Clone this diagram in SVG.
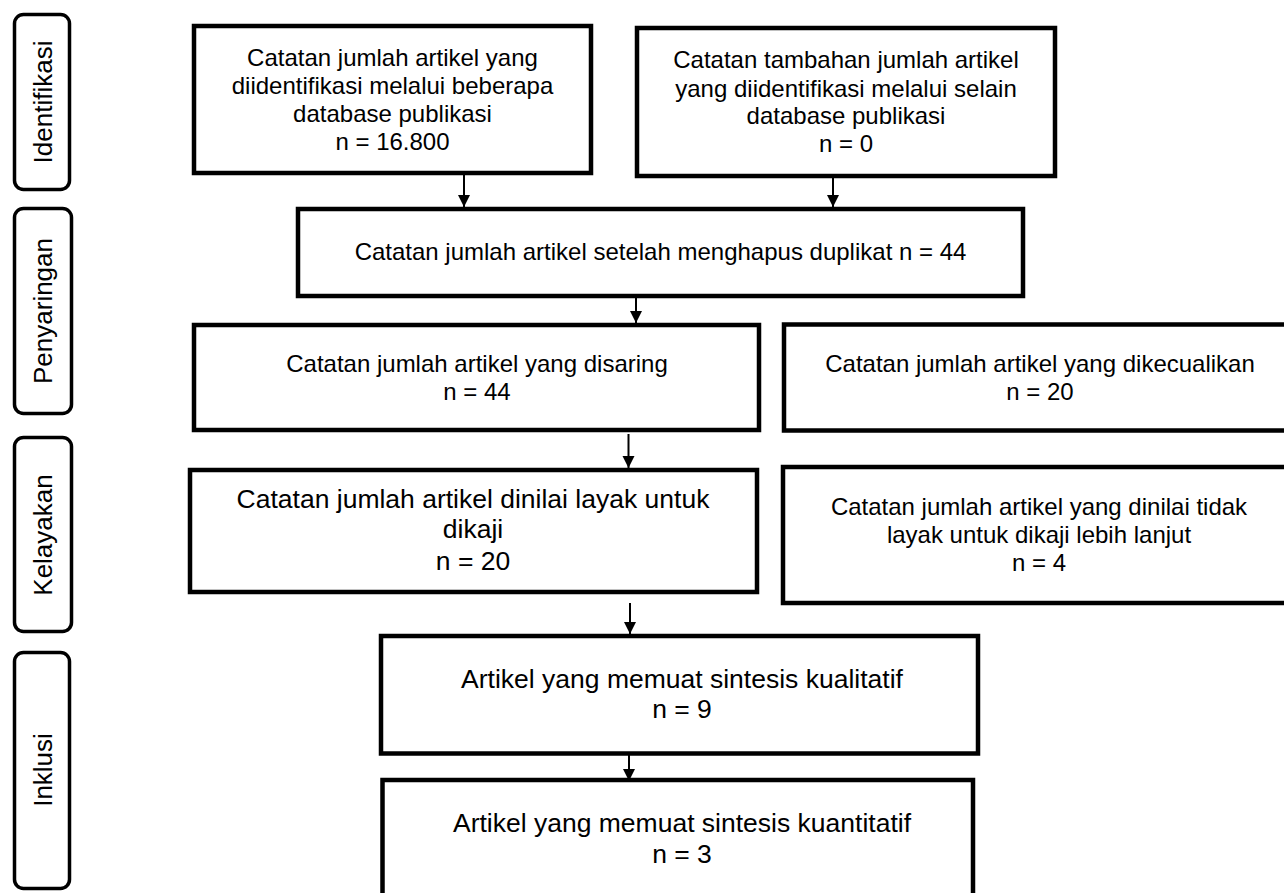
<svg xmlns="http://www.w3.org/2000/svg" width="1284" height="893" viewBox="0 0 1284 893">
<style>
.box{fill:#fff;stroke:#000;stroke-width:4.5}
.side{fill:#fff;stroke:#000;stroke-width:3.5}
.t{font-family:"Liberation Sans",Arial,sans-serif;font-size:24px;fill:#000;text-anchor:middle}
.tl{font-family:"Liberation Sans",Arial,sans-serif;font-size:26.5px;fill:#000;text-anchor:middle}
.st{font-family:"Liberation Sans",Arial,sans-serif;font-size:26px;fill:#000;text-anchor:middle}
.c{stroke:#000;stroke-width:2;fill:none}
</style>
<defs>
<marker id="ah" markerUnits="userSpaceOnUse" markerWidth="14" markerHeight="14" refX="12" refY="6" orient="auto">
<path d="M0,0 L12,6 L0,12 Z" fill="#000"/>
</marker>
</defs>

<g id="side-identifikasi">
<rect class="side" x="14.5" y="14.5" width="55" height="175" rx="9"/>
<text class="st" transform="translate(51.5,102) rotate(-90)">Identifikasi</text>
</g>
<g id="side-penyaringan">
<rect class="side" x="14.5" y="208.5" width="57" height="205" rx="9"/>
<text class="st" transform="translate(51.5,311) rotate(-90)">Penyaringan</text>
</g>
<g id="side-kelayakan">
<rect class="side" x="14.5" y="437.5" width="57" height="194" rx="9"/>
<text class="st" transform="translate(51.5,535) rotate(-90)">Kelayakan</text>
</g>
<g id="side-inklusi">
<rect class="side" x="14.5" y="652.5" width="55" height="236" rx="9"/>
<text class="st" transform="translate(51.5,770) rotate(-90)">Inklusi</text>
</g>

<g id="connectors">
<line class="c" x1="464" y1="175" x2="464" y2="207" marker-end="url(#ah)"/>
<line class="c" x1="833" y1="178" x2="833" y2="207" marker-end="url(#ah)"/>
<line class="c" x1="636" y1="298" x2="636" y2="323" marker-end="url(#ah)"/>
<line class="c" x1="628.5" y1="434" x2="628.5" y2="468" marker-end="url(#ah)"/>
<line class="c" x1="630" y1="603" x2="630" y2="634" marker-end="url(#ah)"/>
<line class="c" x1="629" y1="755" x2="629" y2="781" marker-end="url(#ah)"/>
</g>

<g id="box-database">
<rect class="box" x="194" y="26" width="397" height="147"/>
<text class="t" x="392.5" y="66">Catatan jumlah artikel yang</text>
<text class="t" x="392.5" y="94">diidentifikasi melalui beberapa</text>
<text class="t" x="392.5" y="122">database publikasi</text>
<text class="t" x="392.5" y="150">n = 16.800</text>
</g>
<g id="box-tambahan">
<rect class="box" x="637" y="28" width="418" height="148"/>
<text class="t" x="846" y="68">Catatan tambahan jumlah artikel</text>
<text class="t" x="846" y="96.5">yang diidentifikasi melalui selain</text>
<text class="t" x="846" y="124">database publikasi</text>
<text class="t" x="846" y="151.5">n = 0</text>
</g>
<g id="box-duplikat">
<rect class="box" x="298" y="209" width="725" height="87"/>
<text class="t" x="660.5" y="260">Catatan jumlah artikel setelah menghapus duplikat n = 44</text>
</g>
<g id="box-disaring">
<rect class="box" x="194" y="325" width="565" height="105"/>
<text class="t" x="477" y="372">Catatan jumlah artikel yang disaring</text>
<text class="t" x="477" y="400">n = 44</text>
</g>
<g id="box-dikecualikan">
<rect class="box" x="784" y="324.5" width="520" height="106"/>
<text class="t" x="1040" y="372">Catatan jumlah artikel yang dikecualikan</text>
<text class="t" x="1040" y="400">n = 20</text>
</g>
<g id="box-layak">
<rect class="box" x="190" y="470" width="567" height="122"/>
<text class="tl" x="473" y="508">Catatan jumlah artikel dinilai layak untuk</text>
<text class="tl" x="473" y="538">dikaji</text>
<text class="tl" x="473" y="570">n = 20</text>
</g>
<g id="box-tidak-layak">
<rect class="box" x="783" y="467" width="520" height="136"/>
<text class="t" x="1039" y="515">Catatan jumlah artikel yang dinilai tidak</text>
<text class="t" x="1039" y="543">layak untuk dikaji lebih lanjut</text>
<text class="t" x="1039" y="571">n = 4</text>
</g>
<g id="box-kualitatif">
<rect class="box" x="381" y="636" width="597" height="117.5"/>
<text class="tl" x="682" y="688">Artikel yang memuat sintesis kualitatif</text>
<text class="tl" x="682" y="718">n = 9</text>
</g>
<g id="box-kuantitatif">
<rect class="box" x="382.5" y="780" width="590.5" height="130"/>
<text class="tl" x="682" y="832">Artikel yang memuat sintesis kuantitatif</text>
<text class="tl" x="682" y="863">n = 3</text>
</g>
</svg>
